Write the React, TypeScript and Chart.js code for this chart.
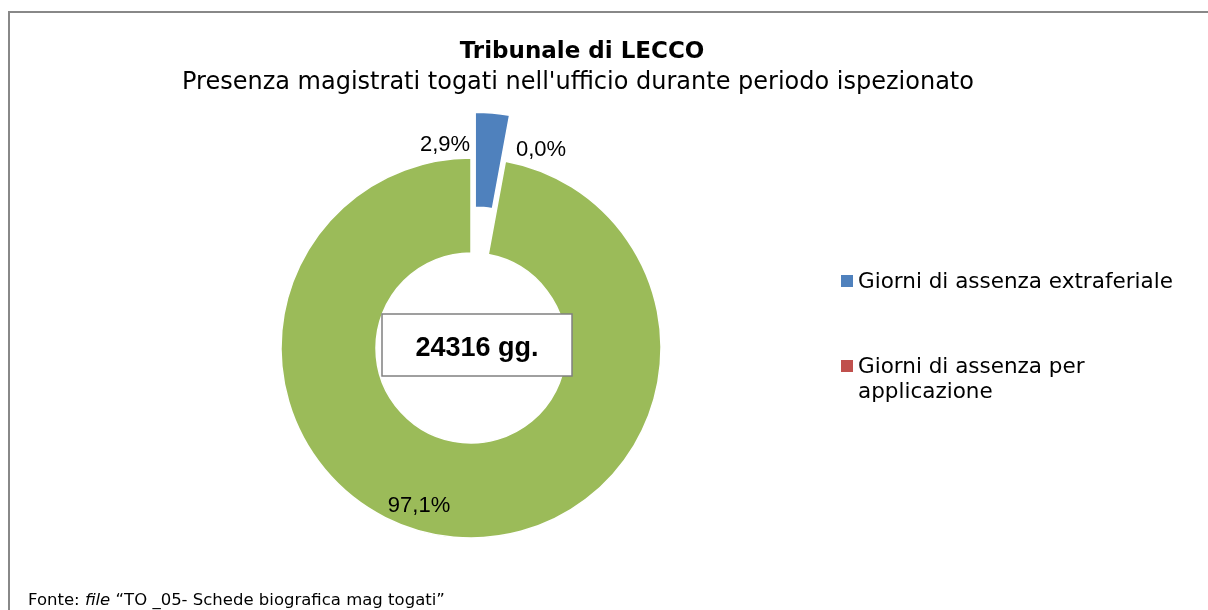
import React, { useEffect, useRef } from "react";
import { Chart, registerables } from "chart.js";

Chart.register(...registerables);

const TITLE = "Tribunale di LECCO";
const SUBTITLE = "Presenza magistrati togati nell'ufficio durante periodo ispezionato";
const CATEGORIES = [
  "Giorni di assenza extraferiale",
  "Giorni di assenza per applicazione",
  "Giorni di presenza",
];
const VALUES = [705, 0, 23611];
const PERCENT_LABELS = ["2,9%", "0,0%", "97,1%"];
const CENTER_LABEL = "24316 gg.";
const LEGEND_LINES = [["Giorni di assenza extraferiale"], ["Giorni di assenza per", "applicazione"]];
const COLORS = ["#4F81BD", "#C0504D", "#9BBB59"];
const EXPLODE = [46, 0, 0];
// label offsets relative to doughnut centre (styling)
const LABEL_OFFSETS = [
  [-26, -203],
  [70, -198],
  [-52, 158],
];

const W = 1208;
const H = 610;

const customPlugin = {
  id: "custom",
  beforeDraw(chart: any) {
    const ctx = chart.ctx;
    ctx.save();
    ctx.fillStyle = "#ffffff";
    ctx.fillRect(0, 0, W, H);
    ctx.strokeStyle = "#888888";
    ctx.lineWidth = 2;
    ctx.beginPath();
    ctx.moveTo(9, H + 5);
    ctx.lineTo(9, 12);
    ctx.lineTo(W + 5, 12);
    ctx.stroke();
    ctx.restore();
  },
  beforeDatasetDraw(chart: any, args: any) {
    const ctx = chart.ctx;
    const meta = args.meta;
    meta.data.forEach((arc: any, i: number) => {
      ctx.save();
      const d = EXPLODE[i] || 0;
      if (d) {
        const mid = (arc.startAngle + arc.endAngle) / 2;
        ctx.translate(Math.cos(mid) * d, Math.sin(mid) * d);
      }
      arc.draw(ctx, chart.chartArea);
      ctx.restore();
    });
    return false;
  },
  afterDraw(chart: any) {
    const ctx = chart.ctx;
    const arc0 = chart.getDatasetMeta(0).data[0];
    const cx = arc0.x;
    const cy = arc0.y;
    ctx.save();
    ctx.fillStyle = "#000000";
    ctx.textAlign = "center";
    ctx.textBaseline = "alphabetic";
    ctx.font = "bold 23px 'DejaVu Sans'";
    ctx.fillText(TITLE, 582, 58);
    ctx.font = "24px 'DejaVu Sans'";
    ctx.fillText(SUBTITLE, 578, 89);

    // percent labels
    ctx.font = "22px 'Liberation Sans'";
    ctx.textBaseline = "middle";
    PERCENT_LABELS.forEach((t, i) => {
      const [dx, dy] = LABEL_OFFSETS[i];
      ctx.fillText(t, cx + dx, cy + dy);
    });

    // center box
    ctx.fillStyle = "#ffffff";
    ctx.fillRect(382, 314, 190, 62);
    ctx.strokeStyle = "#808080";
    ctx.lineWidth = 1.5;
    ctx.strokeRect(382, 314, 190, 62);
    ctx.fillStyle = "#000000";
    ctx.font = "bold 27px 'Liberation Sans'";
    ctx.textBaseline = "alphabetic";
    ctx.fillText(CENTER_LABEL, 477, 356);

    // legend
    ctx.textAlign = "left";
    ctx.font = "21.5px 'DejaVu Sans'";
    const legendY = [288, 373];
    LEGEND_LINES.forEach((lines, i) => {
      ctx.fillStyle = COLORS[i];
      ctx.fillRect(841, legendY[i] - 13, 12, 12);
      ctx.fillStyle = "#000000";
      lines.forEach((ln, j) => ctx.fillText(ln, 858, legendY[i] + j * 25));
    });

    // footer
    ctx.font = "16.5px 'DejaVu Sans'";
    let x = 28;
    const by = 605;
    const p1 = "Fonte: ";
    ctx.fillText(p1, x, by);
    x += ctx.measureText(p1).width;
    ctx.font = "italic 16.5px 'DejaVu Sans'";
    ctx.fillText("file", x, by);
    x += ctx.measureText("file").width;
    ctx.font = "16.5px 'DejaVu Sans'";
    ctx.fillText(" \u201CTO _05- Schede biografica mag togati\u201D", x, by);
    ctx.restore();
  },
};

export default function App() {
  const ref = useRef<HTMLCanvasElement | null>(null);
  useEffect(() => {
    document.body.style.margin = "0";
    const chart = new Chart(ref.current as HTMLCanvasElement, {
      type: "doughnut",
      data: {
        labels: CATEGORIES,
        datasets: [
          {
            data: VALUES,
            backgroundColor: COLORS,
            borderColor: "#ffffff",
            borderWidth: 1.5,
          },
        ],
      },
      options: {
        responsive: false,
        animation: false,
        radius: 190,
        cutout: "50%",
        layout: { padding: { left: 0, right: 266, top: 86, bottom: 0 } },
        plugins: {
          legend: { display: false },
          tooltip: { enabled: false },
          title: { display: false },
        },
      },
      plugins: [customPlugin],
    });
    return () => chart.destroy();
  }, []);
  return (
    <div style={{ position: "absolute", left: 0, top: 0, width: W, height: H }}>
      <canvas ref={ref} width={W} height={H} style={{ width: W, height: H }} />
    </div>
  );
}
